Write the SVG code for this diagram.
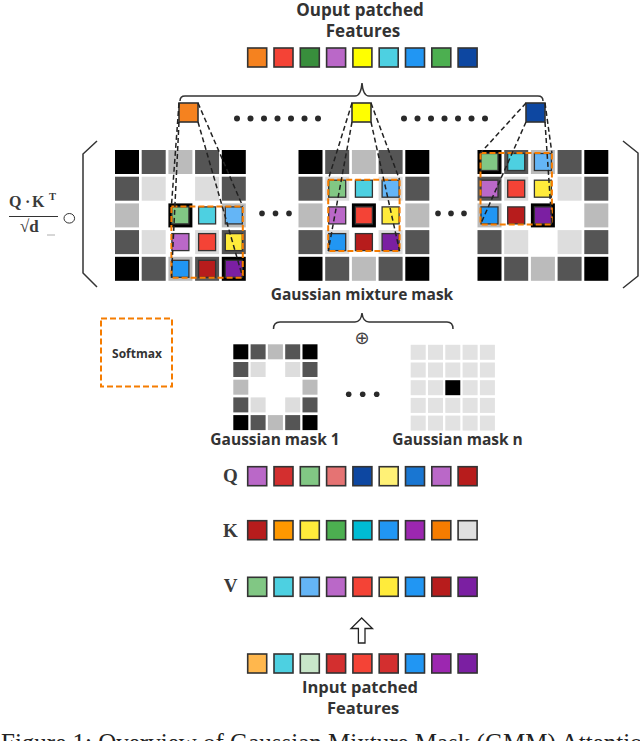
<svg xmlns="http://www.w3.org/2000/svg" width="640" height="741" viewBox="0 0 640 741">
<style>
.t{font-family:"Open Sans","Liberation Sans",sans-serif;font-weight:bold;fill:#333}
.m{font-family:"Liberation Serif",serif;font-weight:bold;fill:#3a3a3a}
.sq{stroke:#333;stroke-width:1.6}
.in{stroke:#333;stroke-width:1.3}
.k{fill:#000}.d{fill:#555}.l{fill:#bbb}.v{fill:#ddd}.p{fill:#e2e2e2}
.od{fill:none;stroke:#F57C00;stroke-width:2;stroke-dasharray:6 3}
.dl{fill:none;stroke:#222;stroke-width:1.5;stroke-dasharray:5 3}
.ln{fill:none;stroke:#333;stroke-width:1.5}
.dot{fill:#2a2a2a}
</style>
<defs>
<g id="bigmask">
<rect class="k" x="0" y="0" width="24" height="24"/><rect class="d" x="26.7" y="0" width="24" height="24"/><rect class="l" x="53.4" y="0" width="24" height="24"/><rect class="d" x="80.1" y="0" width="24" height="24"/><rect class="k" x="106.8" y="0" width="24" height="24"/>
<rect class="d" x="0" y="26.7" width="24" height="24"/><rect class="v" x="26.7" y="26.7" width="24" height="24"/><rect class="v" x="80.1" y="26.7" width="24" height="24"/><rect class="d" x="106.8" y="26.7" width="24" height="24"/>
<rect class="l" x="0" y="53.4" width="24" height="24"/><rect class="k" x="53.4" y="53.4" width="24" height="24"/><rect class="l" x="106.8" y="53.4" width="24" height="24"/>
<rect class="d" x="0" y="80.1" width="24" height="24"/><rect class="v" x="26.7" y="80.1" width="24" height="24"/><rect class="v" x="80.1" y="80.1" width="24" height="24"/><rect class="d" x="106.8" y="80.1" width="24" height="24"/>
<rect class="k" x="0" y="106.8" width="24" height="24"/><rect class="d" x="26.7" y="106.8" width="24" height="24"/><rect class="l" x="53.4" y="106.8" width="24" height="24"/><rect class="d" x="80.1" y="106.8" width="24" height="24"/><rect class="k" x="106.8" y="106.8" width="24" height="24"/>
</g>
<g id="overlay">
<rect class="in" x="3.5" y="3.5" width="17" height="17" fill="#81C784"/>
<rect class="in" x="30.2" y="3.5" width="17" height="17" fill="#4DD0E1"/>
<rect class="in" x="56.9" y="3.5" width="17" height="17" fill="#64B5F6"/>
<rect class="in" x="3.5" y="30.2" width="17" height="17" fill="#BA68C8"/>
<rect class="in" x="30.2" y="30.2" width="17" height="17" fill="#F44336"/>
<rect class="in" x="56.9" y="30.2" width="17" height="17" fill="#FFEB3B"/>
<rect class="in" x="3.5" y="56.9" width="17" height="17" fill="#2196F3"/>
<rect class="in" x="30.2" y="56.9" width="17" height="17" fill="#B71C1C"/>
<rect class="in" x="56.9" y="56.9" width="17" height="17" fill="#7B1FA2"/>
<rect class="od" x="3" y="3" width="71.4" height="71.4"/>
</g>
</defs>

<g id="title-output">
<text class="t" x="360" y="16" font-size="17" text-anchor="middle">Ouput patched</text>
<text class="t" x="363" y="37" font-size="17" text-anchor="middle">Features</text>
</g>

<g id="output-features">
<rect class="sq" x="247.7" y="48" width="19" height="19" fill="#F5821F"/>
<rect class="sq" x="274" y="48" width="19" height="19" fill="#F44336"/>
<rect class="sq" x="300.3" y="48" width="19" height="19" fill="#388E3C"/>
<rect class="sq" x="326.6" y="48" width="19" height="19" fill="#BA68C8"/>
<rect class="sq" x="352.9" y="48" width="19" height="19" fill="#FFFF00"/>
<rect class="sq" x="379.2" y="48" width="19" height="19" fill="#4DD0E1"/>
<rect class="sq" x="405.5" y="48" width="19" height="19" fill="#2196F3"/>
<rect class="sq" x="431.8" y="48" width="19" height="19" fill="#4CAF50"/>
<rect class="sq" x="458.1" y="48" width="19" height="19" fill="#0D47A1"/>
</g>

<g id="selected-outputs">
<rect class="sq" x="179" y="103" width="19" height="19" fill="#F5821F"/>
<rect class="sq" x="352" y="103" width="19" height="19" fill="#FFFF00"/>
<rect class="sq" x="526" y="103" width="19" height="19" fill="#0D47A1"/>
<g class="dot">
<circle cx="237" cy="118.5" r="3"/><circle cx="250.5" cy="118.5" r="3"/><circle cx="264" cy="118.5" r="3"/><circle cx="277.5" cy="118.5" r="3"/><circle cx="291" cy="118.5" r="3"/><circle cx="304.5" cy="118.5" r="3"/><circle cx="318" cy="118.5" r="3"/>
<circle cx="404" cy="118.5" r="3"/><circle cx="417.5" cy="118.5" r="3"/><circle cx="431" cy="118.5" r="3"/><circle cx="444.5" cy="118.5" r="3"/><circle cx="458" cy="118.5" r="3"/><circle cx="471.5" cy="118.5" r="3"/><circle cx="485" cy="118.5" r="3"/>
</g>
</g>

<g id="formula">
<text class="m" x="9" y="207" font-size="16">Q</text>
<text class="m" x="25" y="207" font-size="16">·</text>
<text class="m" x="32" y="207" font-size="16">K</text>
<text class="m" x="49" y="200" font-size="10.5">T</text>
<line x1="9" y1="216.5" x2="58" y2="216.5" stroke="#333" stroke-width="1"/>
<text class="m" x="20" y="232" font-size="17">√d</text>
<line x1="47" y1="235" x2="55" y2="235" stroke="#999" stroke-width="0.8"/>
<ellipse cx="69.3" cy="218.3" rx="5.3" ry="4.8" fill="none" stroke="#333" stroke-width="1"/>
</g>

<g id="parentheses">
<path class="ln" d="M97,141 L83,154 L83,273 L97,287"/>
<path class="ln" d="M623,141 L638,153 L638,276 L623,288"/>
</g>

<g id="grid-left" transform="translate(115,150)">
<use href="#bigmask"/>
<use href="#overlay" transform="translate(53.4,53.4)"/>
</g>
<g id="grid-middle" transform="translate(298.5,150)">
<use href="#bigmask"/>
<use href="#overlay" transform="translate(26.7,26.7)"/>
</g>
<g id="grid-right" transform="translate(477.5,150)">
<use href="#bigmask"/>
<use href="#overlay"/>
</g>

<g id="grid-ellipses" class="dot">
<circle cx="262" cy="213.4" r="2.8"/><circle cx="275.5" cy="213.4" r="2.8"/><circle cx="289" cy="213.4" r="2.8"/>
<circle cx="438" cy="213.4" r="2.8"/><circle cx="451" cy="213.4" r="2.8"/><circle cx="464" cy="213.4" r="2.8"/>
</g>

<g id="connectors">
<path class="dl" d="M179,103 L171.4,206.4 M198,103 L242.8,206.4 M179,122 L171.4,277.8 M198,122 L242.8,277.8"/>
<path class="dl" d="M352,103 L328.2,179.7 M371,103 L399.6,179.7 M352,122 L328.2,251.1 M371,122 L399.6,251.1"/>
<path class="dl" d="M526,103 L480.5,153 M545,103 L551.9,153 M526,122 L480.5,224.4 M545,122 L551.9,224.4"/>
<path class="ln" d="M180,101 Q180,96 185,96 L355,96 Q361,96 362,83 Q363,96 369,96 L538,96 Q543,96 543,101"/>
<path class="ln" d="M273.5,329 Q273.5,322 280,322 L355,322 Q361,322 362,313 Q363,322 369,322 L447,322 Q453,322 453,329"/>
<polygon points="361.7,618 372.5,628.5 365,628.5 365,643 358.4,643 358.4,628.5 351,628.5" fill="#fff" stroke="#222" stroke-width="1.3"/>
</g>

<g id="label-gmm">
<text class="t" x="362" y="300" font-size="15.5" text-anchor="middle">Gaussian mixture mask</text>
<text x="362" y="344" font-size="18" text-anchor="middle" font-family="DejaVu Sans,sans-serif" fill="#444">⊕</text>
</g>

<g id="softmax">
<rect class="od" x="101" y="318.5" width="71" height="68"/>
<text class="t" x="137" y="357.5" font-size="12" text-anchor="middle">Softmax</text>
</g>

<g id="gaussian-mask-1">
<rect class="k" x="233.3" y="344.3" width="15" height="15"/><rect class="d" x="250.6" y="344.3" width="15" height="15"/><rect class="l" x="267.9" y="344.3" width="15" height="15"/><rect class="d" x="285.2" y="344.3" width="15" height="15"/><rect class="k" x="302.5" y="344.3" width="15" height="15"/>
<rect class="d" x="233.3" y="362" width="15" height="15"/><rect class="v" x="250.6" y="362" width="15" height="15"/><rect class="v" x="285.2" y="362" width="15" height="15"/><rect class="d" x="302.5" y="362" width="15" height="15"/>
<rect class="l" x="233.3" y="379.7" width="15" height="15"/><rect class="l" x="302.5" y="379.7" width="15" height="15"/>
<rect class="d" x="233.3" y="397.4" width="15" height="15"/><rect class="v" x="250.6" y="397.4" width="15" height="15"/><rect class="v" x="285.2" y="397.4" width="15" height="15"/><rect class="d" x="302.5" y="397.4" width="15" height="15"/>
<rect class="k" x="233.3" y="415.1" width="15" height="15"/><rect class="d" x="250.6" y="415.1" width="15" height="15"/><rect class="l" x="267.9" y="415.1" width="15" height="15"/><rect class="d" x="285.2" y="415.1" width="15" height="15"/><rect class="k" x="302.5" y="415.1" width="15" height="15"/>
<text class="t" x="275" y="445" font-size="15.5" text-anchor="middle">Gaussian mask 1</text>
</g>

<g id="mask-ellipsis" class="dot">
<circle cx="348.7" cy="394.3" r="2.8"/><circle cx="362.7" cy="394.3" r="2.8"/><circle cx="376.7" cy="394.3" r="2.8"/>
</g>

<g id="gaussian-mask-n">
<rect class="p" x="410.7" y="344.8" width="15" height="15"/><rect class="p" x="428" y="344.8" width="15" height="15"/><rect class="p" x="445.3" y="344.8" width="15" height="15"/><rect class="p" x="462.6" y="344.8" width="15" height="15"/><rect class="p" x="479.9" y="344.8" width="15" height="15"/>
<rect class="p" x="410.7" y="362.5" width="15" height="15"/><rect class="p" x="428" y="362.5" width="15" height="15"/><rect class="p" x="445.3" y="362.5" width="15" height="15"/><rect class="p" x="462.6" y="362.5" width="15" height="15"/><rect class="p" x="479.9" y="362.5" width="15" height="15"/>
<rect class="p" x="410.7" y="380.2" width="15" height="15"/><rect class="p" x="428" y="380.2" width="15" height="15"/><rect class="k" x="445.3" y="380.2" width="15" height="15"/><rect class="p" x="462.6" y="380.2" width="15" height="15"/><rect class="p" x="479.9" y="380.2" width="15" height="15"/>
<rect class="p" x="410.7" y="397.9" width="15" height="15"/><rect class="p" x="428" y="397.9" width="15" height="15"/><rect class="p" x="445.3" y="397.9" width="15" height="15"/><rect class="p" x="462.6" y="397.9" width="15" height="15"/><rect class="p" x="479.9" y="397.9" width="15" height="15"/>
<rect class="p" x="410.7" y="415.6" width="15" height="15"/><rect class="p" x="428" y="415.6" width="15" height="15"/><rect class="p" x="445.3" y="415.6" width="15" height="15"/><rect class="p" x="462.6" y="415.6" width="15" height="15"/><rect class="p" x="479.9" y="415.6" width="15" height="15"/>
<text class="t" x="457.5" y="445" font-size="15.5" text-anchor="middle">Gaussian mask n</text>
</g>

<g id="Q-row">
<text class="m" x="230.5" y="482" font-size="19" text-anchor="middle">Q</text>
<rect class="sq" x="247.7" y="466.7" width="19" height="19" fill="#BA68C8"/>
<rect class="sq" x="274" y="466.7" width="19" height="19" fill="#D32F2F"/>
<rect class="sq" x="300.3" y="466.7" width="19" height="19" fill="#81C784"/>
<rect class="sq" x="326.6" y="466.7" width="19" height="19" fill="#E57373"/>
<rect class="sq" x="352.9" y="466.7" width="19" height="19" fill="#0D47A1"/>
<rect class="sq" x="379.2" y="466.7" width="19" height="19" fill="#FFF176"/>
<rect class="sq" x="405.5" y="466.7" width="19" height="19" fill="#1976D2"/>
<rect class="sq" x="431.8" y="466.7" width="19" height="19" fill="#BA68C8"/>
<rect class="sq" x="458.1" y="466.7" width="19" height="19" fill="#B71C1C"/>
</g>

<g id="K-row">
<text class="m" x="230.5" y="536.5" font-size="19" text-anchor="middle">K</text>
<rect class="sq" x="247.7" y="520.7" width="19" height="19" fill="#B71C1C"/>
<rect class="sq" x="274" y="520.7" width="19" height="19" fill="#FF9800"/>
<rect class="sq" x="300.3" y="520.7" width="19" height="19" fill="#FFEB3B"/>
<rect class="sq" x="326.6" y="520.7" width="19" height="19" fill="#4CAF50"/>
<rect class="sq" x="352.9" y="520.7" width="19" height="19" fill="#00BCD4"/>
<rect class="sq" x="379.2" y="520.7" width="19" height="19" fill="#2196F3"/>
<rect class="sq" x="405.5" y="520.7" width="19" height="19" fill="#9C27B0"/>
<rect class="sq" x="431.8" y="520.7" width="19" height="19" fill="#F57C00"/>
<rect class="sq" x="458.1" y="520.7" width="19" height="19" fill="#E0E0E0"/>
</g>

<g id="V-row">
<text class="m" x="230.5" y="592" font-size="19" text-anchor="middle">V</text>
<rect class="sq" x="247.7" y="577.3" width="19" height="19" fill="#81C784"/>
<rect class="sq" x="274" y="577.3" width="19" height="19" fill="#4DD0E1"/>
<rect class="sq" x="300.3" y="577.3" width="19" height="19" fill="#64B5F6"/>
<rect class="sq" x="326.6" y="577.3" width="19" height="19" fill="#BA68C8"/>
<rect class="sq" x="352.9" y="577.3" width="19" height="19" fill="#F44336"/>
<rect class="sq" x="379.2" y="577.3" width="19" height="19" fill="#FFEB3B"/>
<rect class="sq" x="405.5" y="577.3" width="19" height="19" fill="#2196F3"/>
<rect class="sq" x="431.8" y="577.3" width="19" height="19" fill="#B71C1C"/>
<rect class="sq" x="458.1" y="577.3" width="19" height="19" fill="#7B1FA2"/>
</g>

<g id="input-features">
<rect class="sq" x="247.7" y="654" width="19" height="19" fill="#FFB74D"/>
<rect class="sq" x="274" y="654" width="19" height="19" fill="#4DD0E1"/>
<rect class="sq" x="300.3" y="654" width="19" height="19" fill="#C8E6C9"/>
<rect class="sq" x="326.6" y="654" width="19" height="19" fill="#D32F2F"/>
<rect class="sq" x="352.9" y="654" width="19" height="19" fill="#F44336"/>
<rect class="sq" x="379.2" y="654" width="19" height="19" fill="#D32F2F"/>
<rect class="sq" x="405.5" y="654" width="19" height="19" fill="#2196F3"/>
<rect class="sq" x="431.8" y="654" width="19" height="19" fill="#9C27B0"/>
<rect class="sq" x="458.1" y="654" width="19" height="19" fill="#7B1FA2"/>
<text class="t" x="360" y="693" font-size="16.5" text-anchor="middle">Input patched</text>
<text class="t" x="363" y="714" font-size="16.5" text-anchor="middle">Features</text>
</g>

<g id="caption">
<text x="1" y="751" font-size="25" font-family="Liberation Serif,serif" fill="#222">Figure 1: Overview of Gaussian Mixture Mask (GMM) Attention</text>
</g>
</svg>
